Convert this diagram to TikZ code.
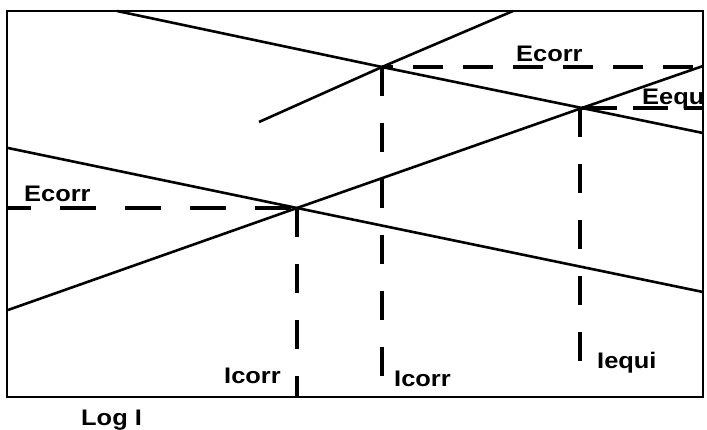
\documentclass[tikz,border=0pt]{standalone}
\usepackage{fontspec}
\setmainfont[FakeStretch=1.13]{Liberation Sans}
\begin{document}
\begin{tikzpicture}[x=1pt,y=-1pt,
  curve/.style={line width=2.6pt},
  frame/.style={line width=2.4pt},
  dashA/.style={line width=3.2pt,dash pattern=on 29pt off 27pt},
  lbl/.style={inner sep=0pt,anchor=base west,font=\fontsize{22.5}{25}\selectfont\bfseries}]
\useasboundingbox (0,0) rectangle (707,430);
\fill[white] (0,0) rectangle (707,430);
% frame
\coordinate (F1) at (7,11);
\coordinate (F2) at (703,397);
\draw[frame] (F1) rectangle (F2);
% crossings
\coordinate (X1) at (297,208);
\coordinate (X2) at (382,67);
\coordinate (X3) at (582,108);
% line ends
\coordinate (A0) at (117,11);
\coordinate (A1) at (703,133);
\coordinate (B0) at (259,122);
\coordinate (B1) at (513,11);
\coordinate (C0) at (8,148);
\coordinate (C1) at (703,292);
\coordinate (D0) at (8,310);
\coordinate (D1) at (703,66);
% solid lines
\draw[curve] (A0) -- (X2) -- (X3) -- (A1);
\draw[curve] (B0) -- (X2) -- (B1);
\draw[curve] (C0) -- (X1) -- (C1);
\draw[curve] (D0) -- (X1) -- (X3) -- (D1);
% dashed lines
\coordinate (E1) at (8,208);
\coordinate (E2) at (702,67);
\coordinate (E3) at (702,108);
\coordinate (V1) at (297,397);
\coordinate (V2) at (382,378);
\coordinate (V3) at (580,372);
\coordinate (X3b) at (580,108);
\draw[line width=3.2pt,dash pattern=on 36pt off 29pt,dash phase=13pt] (E1) -- (X1);
\draw[line width=3.2pt,dash pattern=on 30pt off 20pt,dash phase=19pt] (X2) -- (E2);
\draw[line width=3.2pt,dash pattern=on 35pt off 16pt] (X3) -- (E3);
\draw[dashA] (X1) -- (V1);
\draw[dashA] (X2) -- (V2);
\draw[dashA] (X3b) -- (V3);
% labels
\node[lbl] (ecorrT) at (516,62) {Ecorr};
\begin{scope}
\clip (F1) rectangle (F2);
\node[lbl] (eequ) at (642,105) {Eequ};
\end{scope}
\node[lbl] (ecorrL) at (24,202) {Ecorr};
\node[lbl] (icorrL) at (224,383) {Icorr};
\node[lbl] (icorrM) at (394,386) {Icorr};
\node[lbl] (iequi) at (597,368) {Iequi};
\node[lbl] (logi) at (81,425) {Log I};
\end{tikzpicture}
\end{document}
